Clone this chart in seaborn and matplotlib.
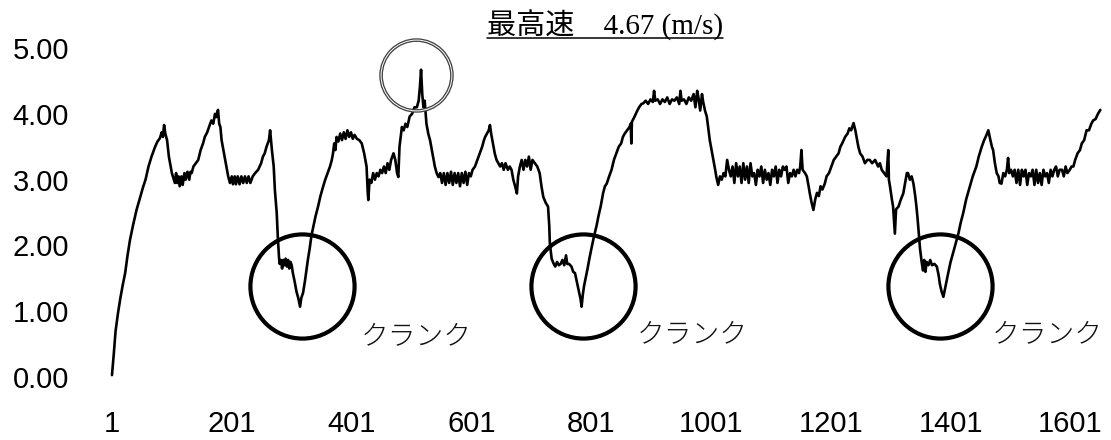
import numpy as np
import pandas as pd
import seaborn as sns
import matplotlib.pyplot as plt
from matplotlib.lines import Line2D

# speed trace (sample number, speed in m/s)
SAMPLE_NO = [
    1, 4, 7, 11, 15, 19, 23, 27, 31, 36, 42, 47, 53, 57, 62, 67, 73, 77, 81, 84, 86, 88, 90, 93, 96, 98,
    101, 103, 106, 108, 110, 112, 114, 117, 119, 122, 124, 127, 130, 132, 134, 137, 141, 145, 149, 153,
    156, 160, 163, 167, 170, 173, 175, 178, 180, 182, 184, 187, 190, 192, 195, 198, 201, 203, 206, 208,
    211, 214, 217, 220, 223, 226, 229, 232, 236, 240, 245, 250, 253, 256, 259, 261, 263, 265, 268, 271,
    273, 276, 278, 280, 281, 283, 285, 287, 289, 291, 293, 295, 297, 299, 301, 303, 306, 309, 312, 315,
    317, 320, 323, 326, 328, 331, 334, 337, 341, 345, 349, 353, 357, 361, 365, 368, 370, 372, 374, 376,
    379, 382, 385, 388, 391, 394, 397, 400, 403, 406, 410, 414, 418, 422, 426, 428, 429, 431, 434, 437,
    440, 443, 446, 449, 452, 455, 458, 461, 464, 467, 471, 474, 477, 479, 481, 483, 485, 488, 491, 494,
    498, 502, 506, 510, 513, 515, 517, 519, 521, 523, 526, 529, 532, 536, 540, 543, 546, 549, 552, 555,
    558, 561, 564, 567, 570, 573, 576, 579, 582, 585, 588, 591, 594, 597, 600, 603, 607, 611, 615, 619,
    622, 624, 627, 630, 632, 634, 637, 640, 643, 646, 649, 652, 655, 658, 662, 665, 668, 671, 674, 677,
    679, 682, 685, 688, 691, 694, 697, 700, 703, 707, 711, 715, 718, 721, 725, 729, 731, 732, 735, 738,
    741, 744, 747, 750, 753, 756, 759, 761, 764, 768, 771, 774, 777, 779, 781, 783, 785, 787, 789, 791,
    795, 798, 802, 806, 810, 813, 817, 821, 824, 827, 831, 835, 839, 843, 847, 851, 854, 857, 861, 865,
    867, 868, 869, 873, 877, 881, 885, 888, 892, 896, 900, 904, 906, 908, 912, 916, 920, 924, 928, 932,
    936, 940, 944, 948, 950, 952, 956, 960, 964, 968, 972, 975, 978, 980, 983, 986, 988, 991, 994, 997,
    999, 1002, 1005, 1008, 1010, 1013, 1016, 1019, 1022, 1025, 1028, 1031, 1034, 1037, 1040, 1043, 1046,
    1049, 1052, 1055, 1058, 1061, 1064, 1067, 1070, 1073, 1076, 1079, 1082, 1085, 1088, 1091, 1094, 1097,
    1100, 1103, 1106, 1109, 1112, 1115, 1118, 1121, 1124, 1127, 1130, 1133, 1136, 1139, 1142, 1145, 1148,
    1150, 1152, 1154, 1158, 1161, 1164, 1166, 1169, 1172, 1175, 1178, 1181, 1184, 1187, 1191, 1194, 1198,
    1202, 1206, 1210, 1214, 1217, 1220, 1225, 1229, 1232, 1235, 1239, 1242, 1245, 1247, 1250, 1254, 1258,
    1262, 1266, 1270, 1275, 1280, 1283, 1286, 1290, 1294, 1297, 1298, 1300, 1303, 1305, 1308, 1310, 1314,
    1318, 1322, 1325, 1328, 1330, 1333, 1336, 1339, 1342, 1344, 1346, 1348, 1350, 1353, 1355, 1357, 1359,
    1361, 1364, 1367, 1370, 1374, 1378, 1381, 1383, 1386, 1389, 1393, 1397, 1401, 1405, 1410, 1414, 1418,
    1422, 1427, 1433, 1438, 1444, 1448, 1453, 1457, 1461, 1464, 1467, 1470, 1472, 1475, 1478, 1481, 1483,
    1486, 1489, 1492, 1495, 1497, 1499, 1502, 1505, 1508, 1511, 1514, 1517, 1520, 1523, 1526, 1529, 1532,
    1535, 1538, 1541, 1544, 1547, 1550, 1553, 1556, 1559, 1562, 1565, 1568, 1571, 1574, 1577, 1580, 1583,
    1587, 1590, 1593, 1596, 1600, 1603, 1606, 1609, 1613, 1617, 1620, 1624, 1628, 1632, 1636, 1639, 1643,
    1647, 1651,
]
SPEED_MS = [
    0.03, 0.35, 0.70, 0.97, 1.20, 1.40, 1.58, 1.85, 2.08, 2.30, 2.54, 2.70, 2.89, 3.00, 3.20, 3.35, 3.50, 3.58, 3.63, 3.72, 3.65, 3.83, 3.70, 3.60, 3.35, 3.25,
    3.10, 3.04, 2.95, 3.10, 2.95, 3.05, 2.90, 3.05, 2.92, 3.10, 3.00, 3.12, 3.00, 3.12, 3.10, 3.20, 3.25, 3.30, 3.45, 3.55,
    3.65, 3.72, 3.80, 3.90, 3.85, 4.00, 3.95, 4.06, 3.85, 3.80, 3.60, 3.45, 3.30, 3.20, 3.05, 2.95, 3.05, 2.93, 3.05, 2.93,
    3.05, 2.93, 3.05, 2.95, 3.05, 2.95, 3.05, 2.95, 3.05, 3.10, 3.15, 3.25, 3.35, 3.40, 3.50, 3.55, 3.60, 3.75, 3.45, 3.20,
    2.84, 2.50, 2.10, 1.80, 1.72, 1.78, 1.65, 1.78, 1.70, 1.80, 1.68, 1.78, 1.65, 1.75, 1.70, 1.58, 1.45, 1.30, 1.20, 1.07,
    1.20, 1.28, 1.45, 1.65, 1.78, 1.95, 2.15, 2.28, 2.45, 2.59, 2.75, 2.88, 3.00, 3.10, 3.20, 3.30, 3.40, 3.55, 3.45, 3.65,
    3.58, 3.70, 3.60, 3.72, 3.62, 3.75, 3.65, 3.72, 3.62, 3.68, 3.62, 3.60, 3.55, 3.40, 3.20, 2.80, 2.69, 3.00, 2.95, 3.10,
    3.00, 3.10, 3.05, 3.15, 3.10, 3.20, 3.10, 3.25, 3.15, 3.30, 3.40, 3.30, 3.10, 3.04, 3.50, 3.65, 3.80, 3.75, 3.85, 3.80,
    3.96, 4.00, 4.10, 4.10, 4.20, 4.40, 4.67, 4.30, 4.10, 4.20, 3.85, 3.70, 3.60, 3.40, 3.20, 3.10, 3.04, 3.10, 2.95, 3.10,
    2.92, 3.10, 2.95, 3.12, 2.92, 3.10, 2.95, 3.10, 2.90, 3.10, 2.95, 3.12, 2.92, 3.10, 3.05, 3.15, 3.20, 3.30, 3.40, 3.50,
    3.60, 3.65, 3.70, 3.75, 3.83, 3.70, 3.55, 3.40, 3.30, 3.25, 3.20, 3.25, 3.15, 3.25, 3.15, 3.20, 3.15, 3.00, 2.90, 2.79,
    3.05, 3.20, 3.30, 3.15, 3.30, 3.20, 3.35, 3.15, 3.30, 3.25, 3.20, 3.10, 2.90, 2.74, 2.65, 2.59, 2.30, 2.03, 1.80, 1.73,
    1.68, 1.75, 1.70, 1.72, 1.78, 1.70, 1.85, 1.72, 1.72, 1.68, 1.60, 1.58, 1.45, 1.37, 1.28, 1.20, 1.07, 1.25, 1.38, 1.47,
    1.65, 1.80, 1.98, 2.15, 2.30, 2.44, 2.60, 2.80, 2.90, 2.94, 3.05, 3.15, 3.30, 3.40, 3.50, 3.55, 3.65, 3.70, 3.75, 3.80,
    3.85, 3.55, 3.88, 3.95, 4.03, 4.10, 4.15, 4.16, 4.20, 4.15, 4.22, 4.18, 4.35, 4.20, 4.22, 4.15, 4.22, 4.18, 4.25, 4.15,
    4.22, 4.20, 4.25, 4.15, 4.35, 4.20, 4.22, 4.15, 4.25, 4.20, 4.30, 4.10, 4.35, 4.25, 4.05, 4.30, 4.18, 4.05, 3.96, 3.75,
    3.60, 3.45, 3.30, 3.15, 3.04, 2.92, 3.05, 3.00, 3.10, 3.05, 3.30, 3.15, 3.05, 3.20, 2.95, 3.25, 3.05,
    3.20, 2.95, 3.25, 3.00, 3.20, 2.95, 3.25, 3.05, 3.10, 2.92, 3.15, 3.05, 3.20, 2.95, 3.15, 3.00, 3.10,
    2.92, 3.15, 3.05, 3.20, 2.95, 3.15, 3.05, 3.20, 3.15, 3.20, 2.95, 3.10, 3.05, 3.15, 3.05, 3.15, 3.10,
    3.20, 3.45, 3.15, 3.10, 3.05, 2.90, 2.79, 2.65, 2.54, 2.70, 2.80, 2.75, 2.90, 2.85, 2.94, 3.05, 3.10,
    3.20, 3.30, 3.35, 3.40, 3.50, 3.55, 3.65, 3.70, 3.78, 3.75, 3.86, 3.75, 3.60, 3.50, 3.40, 3.35, 3.25,
    3.30, 3.30, 3.25, 3.30, 3.20, 3.25, 3.15, 3.10, 3.05, 3.45, 3.00, 2.89, 2.70, 2.59, 2.18, 2.55, 2.59,
    2.70, 2.79, 2.95, 3.10, 3.10, 3.00, 3.05, 2.94, 2.75, 2.59, 2.40, 2.18, 1.95, 1.73, 1.62, 1.78, 1.60,
    1.75, 1.70, 1.78, 1.70, 1.72, 1.68, 1.55, 1.42, 1.30, 1.22, 1.40, 1.58, 1.75, 1.88, 2.05, 2.18, 2.35,
    2.49, 2.70, 2.89, 3.05, 3.20, 3.35, 3.50, 3.60, 3.68, 3.75, 3.62, 3.50, 3.45, 3.25, 3.10, 3.05, 2.95,
    2.94, 3.10, 3.05, 3.15, 3.33, 3.10, 3.15, 3.05, 3.15, 2.95, 3.15, 2.92, 3.15, 3.05, 3.15, 2.92, 3.10,
    3.05, 3.15, 2.92, 3.15, 2.95, 3.10, 2.92, 3.15, 3.05, 3.10, 2.95, 3.15, 3.05, 3.15, 3.20, 3.05, 3.15,
    3.15, 3.05, 3.20, 3.10, 3.15, 3.20, 3.20, 3.30, 3.40, 3.45, 3.55, 3.60, 3.75, 3.75, 3.85, 3.90, 3.92,
    4.00, 4.06,
]

X_TICKS = [1, 201, 401, 601, 801, 1001, 1201, 1401, 1601]
Y_TICKS = [0, 1, 2, 3, 4, 5]

# circled "crank" sections and the top-speed spot
CRANK_CENTERS = [(318, 1.38), (788, 1.38), (1384, 1.38)]
CRANK_LABEL_POS = [(509, 0.62), (970, 0.65), (1563, 0.65)]
CRANK_LABEL = "クランク"
TOP_SPEED_CENTER = (508, 4.59)
TITLE = "最高速\u30004.67 (m/s)"

df = pd.DataFrame({"sample": SAMPLE_NO, "speed": SPEED_MS})

sns.set_theme(style="white")
plt.rcParams["font.family"] = ["Liberation Sans", "DejaVu Sans"]

fig = plt.figure(figsize=(11.11, 4.40), dpi=100)
ax = fig.add_axes([0.081, 0.125, 0.9163, 0.7727])

sns.lineplot(data=df, x="sample", y="speed", color="black", lw=1.9,
             estimator=None, sort=False, ax=ax)

ax.set_xlim(-35.7, 1663.8)
ax.set_ylim(-0.12, 5.046)
ax.set_xticks(X_TICKS)
ax.set_yticks(Y_TICKS)
ax.set_yticklabels([f"{v:.2f}" for v in Y_TICKS])
ax.tick_params(axis="both", length=0, labelsize=21, colors="black")
ax.tick_params(axis="y", pad=15)
ax.tick_params(axis="x", pad=18)
ax.set_xlabel("")
ax.set_ylabel("")
for side in ("top", "right", "bottom", "left"):
    ax.spines[side].set_visible(False)

# crank circles (marker size is in points, so they stay round)
for cx, cy in CRANK_CENTERS:
    ax.plot([cx], [cy], marker="o", ms=75, mfc="none", mec="black", mew=3.0,
            linestyle="none", zorder=4, clip_on=False)
for lx, ly in CRANK_LABEL_POS:
    ax.text(lx, ly, CRANK_LABEL, ha="center", va="center", fontsize=20,
            family=["Noto Sans CJK JP"], fontweight="light", color="#111111")

# top-speed double ring
tx, ty = TOP_SPEED_CENTER
ax.plot([tx], [ty], marker="o", ms=51, mfc="none", mec="#444444", mew=2.6,
        linestyle="none", zorder=4, clip_on=False)
ax.plot([tx], [ty], marker="o", ms=51, mfc="none", mec="white", mew=0.7,
        linestyle="none", zorder=5, clip_on=False)

# underlined title
title = fig.text(605 / 1111, 1 - 25 / 440, TITLE, ha="center", va="center",
                 fontsize=21, family=["Liberation Serif", "Noto Sans CJK JP"],
                 color="black")
fig.canvas.draw()
bb = title.get_window_extent(renderer=fig.canvas.get_renderer())
W, H = fig.bbox.width, fig.bbox.height
uy = 1 - 38 / 440
fig.add_artist(Line2D([bb.x0 / W, bb.x1 / W], [uy, uy], color="black", lw=1.1,
                      transform=fig.transFigure))

fig.savefig("out.png", dpi=100)
